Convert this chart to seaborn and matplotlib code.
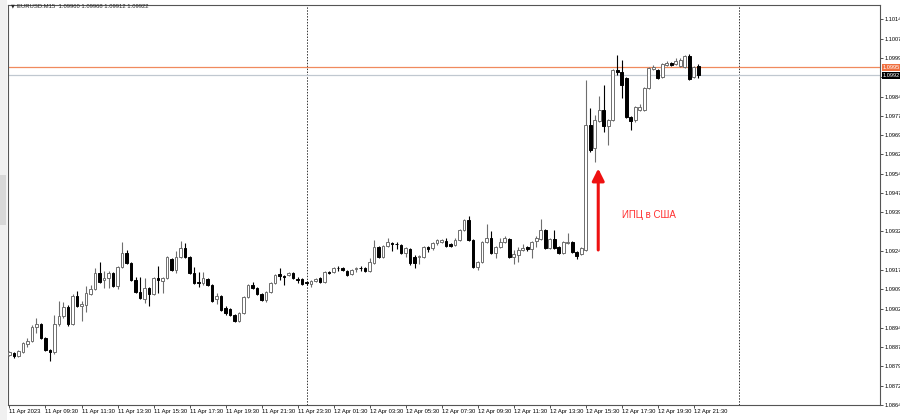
import numpy as np
import pandas as pd
import seaborn as sns
import matplotlib
matplotlib.use("Agg")
import matplotlib.pyplot as plt
from matplotlib.patches import Rectangle

# EURUSD M15, 11 Apr 2023 07:30 -> 12 Apr 2023 21:45 (154 bars)
open_ = [
    1.08834, 1.08842, 1.08830, 1.08846, 1.08877, 1.08889, 1.08943, 1.08955, 1.08901, 1.08854,
    1.08846, 1.08955, 1.08986, 1.09021, 1.08955, 1.09064, 1.09025, 1.09029, 1.09072, 1.09091,
    1.09153, 1.09126, 1.09134, 1.09153, 1.09103, 1.09177, 1.09231, 1.09192, 1.09126, 1.09079,
    1.09052, 1.09095, 1.09072, 1.09134, 1.09122, 1.09134, 1.09208, 1.09165, 1.09216, 1.09251,
    1.09216, 1.09153, 1.09118, 1.09114, 1.09130, 1.09107, 1.09052, 1.09064, 1.09017, 1.09013,
    1.08990, 1.08967, 1.08998, 1.09060, 1.09107, 1.09095, 1.09072, 1.09049, 1.09079, 1.09114,
    1.09150, 1.09142, 1.09146, 1.09153, 1.09130, 1.09130, 1.09118, 1.09110, 1.09122, 1.09134,
    1.09118, 1.09157, 1.09157, 1.09173, 1.09173, 1.09161, 1.09150, 1.09169, 1.09173, 1.09173,
    1.09161, 1.09192, 1.09255, 1.09216, 1.09258, 1.09270, 1.09266, 1.09262, 1.09231, 1.09247,
    1.09216, 1.09216, 1.09216, 1.09255, 1.09251, 1.09270, 1.09274, 1.09278, 1.09266, 1.09262,
    1.09282, 1.09321, 1.09359, 1.09282, 1.09177, 1.09196, 1.09274, 1.09290, 1.09231, 1.09255,
    1.09274, 1.09286, 1.09216, 1.09223, 1.09243, 1.09255, 1.09247, 1.09278, 1.09286, 1.09321,
    1.09251, 1.09286, 1.09255, 1.09231, 1.09270, 1.09274, 1.09235, 1.09227, 1.09243, 1.09729,
    1.09640, 1.09745, 1.09788, 1.09725, 1.09749, 1.09943, 1.09935, 1.09912, 1.09760, 1.09749,
    1.09788, 1.09788, 1.09873, 1.09947, 1.09943, 1.09916, 1.09963, 1.09970, 1.09967, 1.09959,
    1.09955, 1.09998, 1.09916, 1.09960]
high = [
    1.08850, 1.08846, 1.08854, 1.08885, 1.08901, 1.08951, 1.08978, 1.08959, 1.08904, 1.08858,
    1.08990, 1.09045, 1.09041, 1.09029, 1.09072, 1.09083, 1.09045, 1.09103, 1.09107, 1.09173,
    1.09196, 1.09161, 1.09161, 1.09157, 1.09181, 1.09274, 1.09243, 1.09196, 1.09138, 1.09138,
    1.09134, 1.09099, 1.09138, 1.09181, 1.09138, 1.09219, 1.09212, 1.09239, 1.09278, 1.09270,
    1.09219, 1.09177, 1.09157, 1.09157, 1.09134, 1.09110, 1.09075, 1.09068, 1.09025, 1.09017,
    1.08994, 1.09002, 1.09064, 1.09110, 1.09118, 1.09099, 1.09075, 1.09083, 1.09118, 1.09150,
    1.09173, 1.09146, 1.09157, 1.09157, 1.09138, 1.09134, 1.09122, 1.09126, 1.09134, 1.09138,
    1.09161, 1.09161, 1.09177, 1.09181, 1.09177, 1.09165, 1.09169, 1.09177, 1.09181, 1.09177,
    1.09212, 1.09282, 1.09258, 1.09262, 1.09290, 1.09274, 1.09274, 1.09266, 1.09255, 1.09251,
    1.09223, 1.09223, 1.09258, 1.09258, 1.09274, 1.09286, 1.09286, 1.09290, 1.09270, 1.09290,
    1.09325, 1.09363, 1.09375, 1.09286, 1.09200, 1.09278, 1.09344, 1.09317, 1.09258, 1.09290,
    1.09297, 1.09290, 1.09243, 1.09255, 1.09266, 1.09258, 1.09278, 1.09297, 1.09363, 1.09325,
    1.09290, 1.09321, 1.09258, 1.09278, 1.09309, 1.09278, 1.09239, 1.09255, 1.09904, 1.09795,
    1.09768, 1.09842, 1.09885, 1.09753, 1.09947, 1.10001, 1.09982, 1.09916, 1.09764, 1.09803,
    1.09811, 1.09877, 1.09955, 1.09963, 1.09947, 1.09970, 1.09978, 1.09974, 1.09990, 1.09990,
    1.10001, 1.10005, 1.09959, 1.09968]
low = [
    1.08830, 1.08822, 1.08826, 1.08842, 1.08865, 1.08885, 1.08920, 1.08897, 1.08850, 1.08811,
    1.08838, 1.08947, 1.08978, 1.08947, 1.08951, 1.09021, 1.08967, 1.09002, 1.09068, 1.09087,
    1.09114, 1.09095, 1.09095, 1.09099, 1.09091, 1.09173, 1.09188, 1.09122, 1.09075, 1.09052,
    1.09037, 1.09025, 1.09068, 1.09075, 1.09075, 1.09130, 1.09161, 1.09153, 1.09212, 1.09212,
    1.09150, 1.09110, 1.09099, 1.09107, 1.09103, 1.09041, 1.09033, 1.09006, 1.08990, 1.08986,
    1.08963, 1.08963, 1.08994, 1.09056, 1.09091, 1.09068, 1.09045, 1.09041, 1.09075, 1.09110,
    1.09126, 1.09107, 1.09142, 1.09130, 1.09114, 1.09107, 1.09107, 1.09099, 1.09118, 1.09114,
    1.09114, 1.09150, 1.09153, 1.09161, 1.09161, 1.09142, 1.09146, 1.09157, 1.09161, 1.09157,
    1.09157, 1.09188, 1.09212, 1.09212, 1.09255, 1.09239, 1.09247, 1.09227, 1.09216, 1.09185,
    1.09173, 1.09188, 1.09212, 1.09235, 1.09243, 1.09262, 1.09270, 1.09255, 1.09255, 1.09258,
    1.09278, 1.09317, 1.09278, 1.09173, 1.09165, 1.09192, 1.09270, 1.09227, 1.09212, 1.09251,
    1.09270, 1.09212, 1.09188, 1.09196, 1.09239, 1.09239, 1.09212, 1.09255, 1.09282, 1.09247,
    1.09247, 1.09247, 1.09227, 1.09227, 1.09266, 1.09231, 1.09208, 1.09223, 1.09239, 1.09624,
    1.09585, 1.09741, 1.09702, 1.09651, 1.09745, 1.09924, 1.09834, 1.09757, 1.09710, 1.09741,
    1.09784, 1.09784, 1.09869, 1.09943, 1.09908, 1.09912, 1.09959, 1.09959, 1.09963, 1.09955,
    1.09951, 1.09904, 1.09912, 1.09912]
close = [
    1.08846, 1.08830, 1.08850, 1.08881, 1.08889, 1.08943, 1.08955, 1.08901, 1.08854, 1.08846,
    1.08955, 1.08986, 1.09021, 1.08955, 1.09064, 1.09025, 1.09033, 1.09075, 1.09091, 1.09153,
    1.09118, 1.09134, 1.09153, 1.09103, 1.09177, 1.09231, 1.09192, 1.09126, 1.09079, 1.09056,
    1.09095, 1.09072, 1.09134, 1.09126, 1.09134, 1.09216, 1.09165, 1.09216, 1.09251, 1.09216,
    1.09153, 1.09114, 1.09114, 1.09134, 1.09107, 1.09045, 1.09064, 1.09010, 1.08998, 1.08990,
    1.08967, 1.08998, 1.09060, 1.09107, 1.09095, 1.09072, 1.09049, 1.09079, 1.09114, 1.09146,
    1.09142, 1.09138, 1.09153, 1.09134, 1.09126, 1.09110, 1.09114, 1.09122, 1.09130, 1.09118,
    1.09157, 1.09153, 1.09173, 1.09172, 1.09165, 1.09146, 1.09165, 1.09173, 1.09172, 1.09161,
    1.09196, 1.09255, 1.09216, 1.09258, 1.09274, 1.09266, 1.09265, 1.09231, 1.09251, 1.09192,
    1.09192, 1.09219, 1.09255, 1.09247, 1.09270, 1.09282, 1.09282, 1.09258, 1.09258, 1.09282,
    1.09321, 1.09359, 1.09282, 1.09177, 1.09196, 1.09274, 1.09290, 1.09231, 1.09255, 1.09274,
    1.09290, 1.09216, 1.09227, 1.09243, 1.09251, 1.09247, 1.09274, 1.09290, 1.09321, 1.09251,
    1.09286, 1.09251, 1.09231, 1.09274, 1.09274, 1.09235, 1.09219, 1.09251, 1.09729, 1.09632,
    1.09749, 1.09788, 1.09725, 1.09749, 1.09943, 1.09935, 1.09885, 1.09760, 1.09745, 1.09799,
    1.09799, 1.09873, 1.09951, 1.09955, 1.09912, 1.09967, 1.09970, 1.09963, 1.09978, 1.09982,
    1.09998, 1.09908, 1.09955, 1.09922]

x_labels = ["11 Apr 2023", "11 Apr 09:30", "11 Apr 11:30", "11 Apr 13:30", "11 Apr 15:30",
            "11 Apr 17:30", "11 Apr 19:30", "11 Apr 21:30", "11 Apr 23:30", "12 Apr 01:30",
            "12 Apr 03:30", "12 Apr 05:30", "12 Apr 07:30", "12 Apr 09:30", "12 Apr 11:30",
            "12 Apr 13:30", "12 Apr 15:30", "12 Apr 17:30", "12 Apr 19:30", "12 Apr 21:30"]
# 1.0992 is covered by the bid box, as in the terminal
y_labels = ["1.0864", "1.0872", "1.0879", "1.0887", "1.0894", "1.0902", "1.0909", "1.0917",
            "1.0924", "1.0932", "1.0939", "1.0947", "1.0954", "1.0962", "1.0969", "1.0977",
            "1.0984", "", "1.0999", "1.1007", "1.1014"]
day_breaks = [66, 162]          # bar index of 12 Apr 00:00 and 13 Apr 00:00
level_line = 1.09953            # orange horizontal line
bid_price = 1.09922

df = pd.DataFrame({"open": open_, "high": high, "low": low, "close": close})
df["bar"] = np.arange(len(df))
df["up"] = df["close"] >= df["open"]

sns.set_theme(style="white")
plt.rcParams["font.family"] = ["Liberation Sans", "DejaVu Sans"]

fig = plt.figure(figsize=(9, 4.2), dpi=100)
ax = fig.add_axes([8 / 900, 15 / 420, 872 / 900, 400 / 420])

bull_col = "#6e6e6e"
bear_col = "#000000"
wick_cols = np.where(df["up"], bull_col, bear_col)
ax.vlines(df["bar"], df["low"], df["high"], colors=wick_cols, linewidth=0.8, zorder=2)

body_lo = np.minimum(df["open"], df["close"])
body_h = np.abs(df["close"] - df["open"])
ax.bar(df["bar"], body_h, bottom=body_lo, width=0.62,
       color=np.where(df["up"], "white", "black"),
       edgecolor=np.where(df["up"], bull_col, bear_col), linewidth=0.7, zorder=3)

for b in day_breaks:
    ax.axvline(b, color="#333333", linestyle=(0, (1.5, 1.5)), linewidth=0.7, zorder=1)

ax.axhline(level_line, color="#f08a5d", linewidth=0.9, zorder=1)
ax.axhline(bid_price, color="#c0c8d0", linewidth=0.9, zorder=1)

ax.set_xlim(-0.33, 193.4)
ax.set_ylim(1.0864, 1.10196)

ax.set_xticks(np.arange(0, 160, 8))
ax.set_xticklabels(x_labels, fontsize=4.2, ha="left")
ax.set_yticks(1.0864 + 0.00075 * np.arange(len(y_labels)))
ax.set_yticklabels(y_labels, fontsize=4.1)
ax.yaxis.tick_right()
ax.tick_params(axis="both", direction="out", length=2, width=0.6, colors="#333333",
               labelcolor="black", pad=1.0, bottom=True, right=True)
for s in ax.spines.values():
    s.set_color("#555555")
    s.set_linewidth(0.8)
ax.grid(False)

# price boxes on the right scale
ytr = ax.get_yaxis_transform()
ax.text(1.003, level_line, "1.0995", transform=ytr, fontsize=4.1, color="white", va="center",
        ha="left", bbox=dict(boxstyle="square,pad=0.15", fc="#f07040", ec="none"), clip_on=False)
ax.text(1.003, bid_price, "1.0992", transform=ytr, fontsize=4.1, color="white", va="center",
        ha="left", bbox=dict(boxstyle="square,pad=0.15", fc="black", ec="none"), clip_on=False)

# header
ax.text(0.0035, 0.9975, "▼", transform=ax.transAxes, fontsize=3.5, va="center", ha="left",
        family=["DejaVu Sans"])
ax.text(0.0105, 0.9975, "EURUSD.M15  1.09960 1.09968 1.09912 1.09922", transform=ax.transAxes,
        fontsize=4.2, va="center", ha="left")

# CPI annotation
ax.annotate("", xy=(130.8, 1.09560), xytext=(130.8, 1.09243),
            arrowprops=dict(arrowstyle="-|>,head_length=0.6,head_width=0.3", color="#ee1111",
                            lw=2.2, shrinkA=0, shrinkB=0), zorder=4)
ax.text(136.0, 1.09379, "ИПЦ в США", fontsize=7, color="#ff3030", va="center", ha="left")

# left scroll strip
fig.patches.append(Rectangle((0, 0), 7 / 900, 1, transform=fig.transFigure,
                             facecolor="#f0f0f0", edgecolor="none"))
fig.patches.append(Rectangle((0, 1 - 225 / 420), 6 / 900, 50 / 420, transform=fig.transFigure,
                             facecolor="#d8d8d8", edgecolor="none"))

fig.savefig("out.png", dpi=100)
